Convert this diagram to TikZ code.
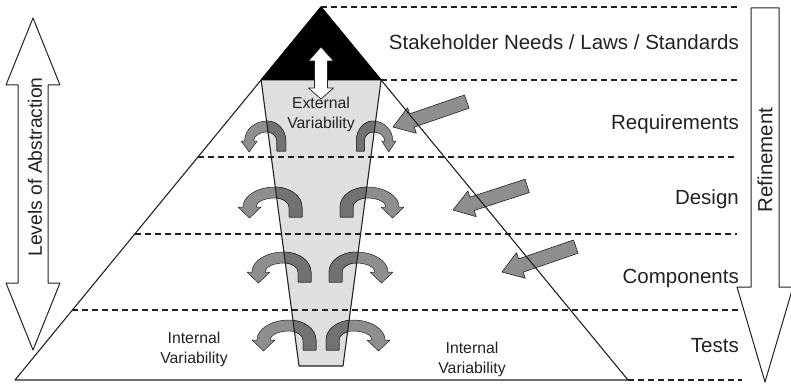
\documentclass[tikz,border=0pt]{standalone}
\usepackage{fontspec}
\setmainfont{Liberation Sans}
\definecolor{trap}{HTML}{DEDFE1}
\definecolor{arrl}{HTML}{8E8E90}
\definecolor{arrd}{HTML}{727274}
\definecolor{ink}{HTML}{222222}
\begin{document}
\begin{tikzpicture}[x=1pt,y=-1pt,line join=round,
  edge/.style={line width=1.1pt,draw=ink},
  dashline/.style={dash pattern=on 6pt off 4pt,line width=1.1pt,draw=ink},
  bigtxt/.style={font=\fontsize{20.5}{24}\selectfont,text=ink,inner sep=0pt},
  smalltxt/.style={font=\fontsize{15.8}{20}\selectfont,text=ink,inner sep=0pt,align=center},
  pics/uarr/.style={code={
    \begin{scope}[x=1pt,y=1pt]
    \filldraw[fill=#1,draw=ink,line width=0.5pt]
      (14,-10) -- (27,-10) -- (27,0)
      arc[start angle=0,end angle=90,x radius=27,y radius=20]
      arc[start angle=90,end angle=180,x radius=32,y radius=20]
      -- (-37,0) -- (-25.5,-11) -- (-14,0) -- (-19,0)
      arc[start angle=180,end angle=90,x radius=19,y radius=9]
      arc[start angle=90,end angle=0,x radius=14,y radius=9]
      -- cycle;
    \end{scope}}},
  pics/sarr/.style={code={
    \begin{scope}[x=1pt,y=1pt]
    \filldraw[fill=arrl,draw=ink,line width=0.6pt]
      (0,0) -- (-20,13.5) -- (-20,7) -- (-78,7) -- (-78,-7) -- (-20,-7) -- (-20,-13.5) -- cycle;
    \end{scope}}}
]
\useasboundingbox (0,0) rectangle (791,385);

% key points
\coordinate (apex) at (321,7);
\coordinate (bl) at (15,380);
\coordinate (br) at (628,380);
\coordinate (capL) at (261.1,80);
\coordinate (capR) at (381.1,80);
\coordinate (trBL) at (299,366);
\coordinate (trBR) at (343,366);

% gray funnel
\fill[trap] (capL) -- (capR) -- (trBR) -- (trBL) -- cycle;

% dashed level lines
\coordinate (d0r) at (737,7);
\coordinate (d1r) at (737,80);
\coordinate (d2l) at (197.9,157);   \coordinate (d2r) at (737,157);
\coordinate (d3l) at (134.8,234);   \coordinate (d3r) at (737,234);
\coordinate (d4l) at (72.4,310);    \coordinate (d4r) at (741,310);
\coordinate (d5r) at (742,380);
\draw[dashline] (apex) -- (d0r);
\draw[dashline] (capR) -- (d1r);
\draw[dashline] (d2l) -- (d2r);
\draw[dashline] (d3l) -- (d3r);
\draw[dashline] (d4l) -- (d4r);
\draw[dashline] (br) -- (d5r);

% curved variability arrows (light outside, darker inside funnel)
\pic[xscale=0.7]   at (267,141) {uarr=arrl};
\pic[xscale=-0.62] at (373,141) {uarr=arrl};
\pic               at (275,207) {uarr=arrl};
\pic[xscale=-1]    at (367,207) {uarr=arrl};
\pic               at (284,272) {uarr=arrl};
\pic[xscale=-1]    at (356,272) {uarr=arrl};
\pic               at (289,340) {uarr=arrl};
\pic[xscale=-1]    at (353,340) {uarr=arrl};
\begin{scope}
  \clip (capL) -- (capR) -- (trBR) -- (trBL) -- cycle;
  \pic[xscale=0.7]   at (267,141) {uarr=arrd};
  \pic[xscale=-0.62] at (373,141) {uarr=arrd};
  \pic               at (275,207) {uarr=arrd};
  \pic[xscale=-1]    at (367,207) {uarr=arrd};
  \pic               at (284,272) {uarr=arrd};
  \pic[xscale=-1]    at (356,272) {uarr=arrd};
  \pic               at (289,340) {uarr=arrd};
  \pic[xscale=-1]    at (353,340) {uarr=arrd};
\end{scope}

% funnel outline
\draw[edge] (capL) -- (trBL) -- (trBR) -- (capR);

% straight gray arrows
\pic[rotate=199] at (393,127) {sarr};
\pic[rotate=198] at (453,210) {sarr};
\pic[rotate=199] at (502,272) {sarr};

% pyramid
\draw[edge] (apex) -- (bl) -- (br) -- cycle;
\filldraw[fill=black,draw=black,line width=1pt] (apex) -- (capL) -- (capR) -- cycle;

% white double arrow in cap
\filldraw[fill=white,draw=ink,line width=0.7pt]
  (321,47) -- (333.5,61) -- (327.5,61) -- (327.5,88) -- (333.5,88) -- (321,99)
  -- (308.5,88) -- (314.5,88) -- (314.5,61) -- (308.5,61) -- cycle;

% side arrows
\filldraw[fill=white,draw=ink,line width=1pt]
  (33,18) -- (60,85) -- (48,85) -- (48,283) -- (60,283) -- (33,350)
  -- (6,283) -- (18,283) -- (18,85) -- (6,85) -- cycle;
\filldraw[fill=white,draw=ink,line width=1pt]
  (751,8) -- (779,8) -- (779,287) -- (793,287) -- (765,382) -- (737,287) -- (751,287) -- cycle;

% texts
\node[bigtxt,anchor=base east] (l0) at (739,50) {Stakeholder Needs / Laws / Standards};
\node[bigtxt,anchor=base east] (l1) at (739,129) {Requirements};
\node[bigtxt,anchor=base east] (l2) at (739,204) {Design};
\node[bigtxt,anchor=base east] (l3) at (739,283) {Components};
\node[bigtxt,anchor=base east] (l4) at (739,352) {Tests};
\node[bigtxt,rotate=90,font=\fontsize{19.3}{23}\selectfont] (lev) at (35,167) {Levels of Abstraction};
\node[bigtxt,rotate=90] (ref) at (765,160) {Refinement};
\node[smalltxt] (ext) at (321,114) {External\\Variability};
\node[smalltxt] (intl) at (194,349) {Internal\\Variability};
\node[smalltxt] (intr) at (472,359) {Internal\\Variability};
\end{tikzpicture}
\end{document}
